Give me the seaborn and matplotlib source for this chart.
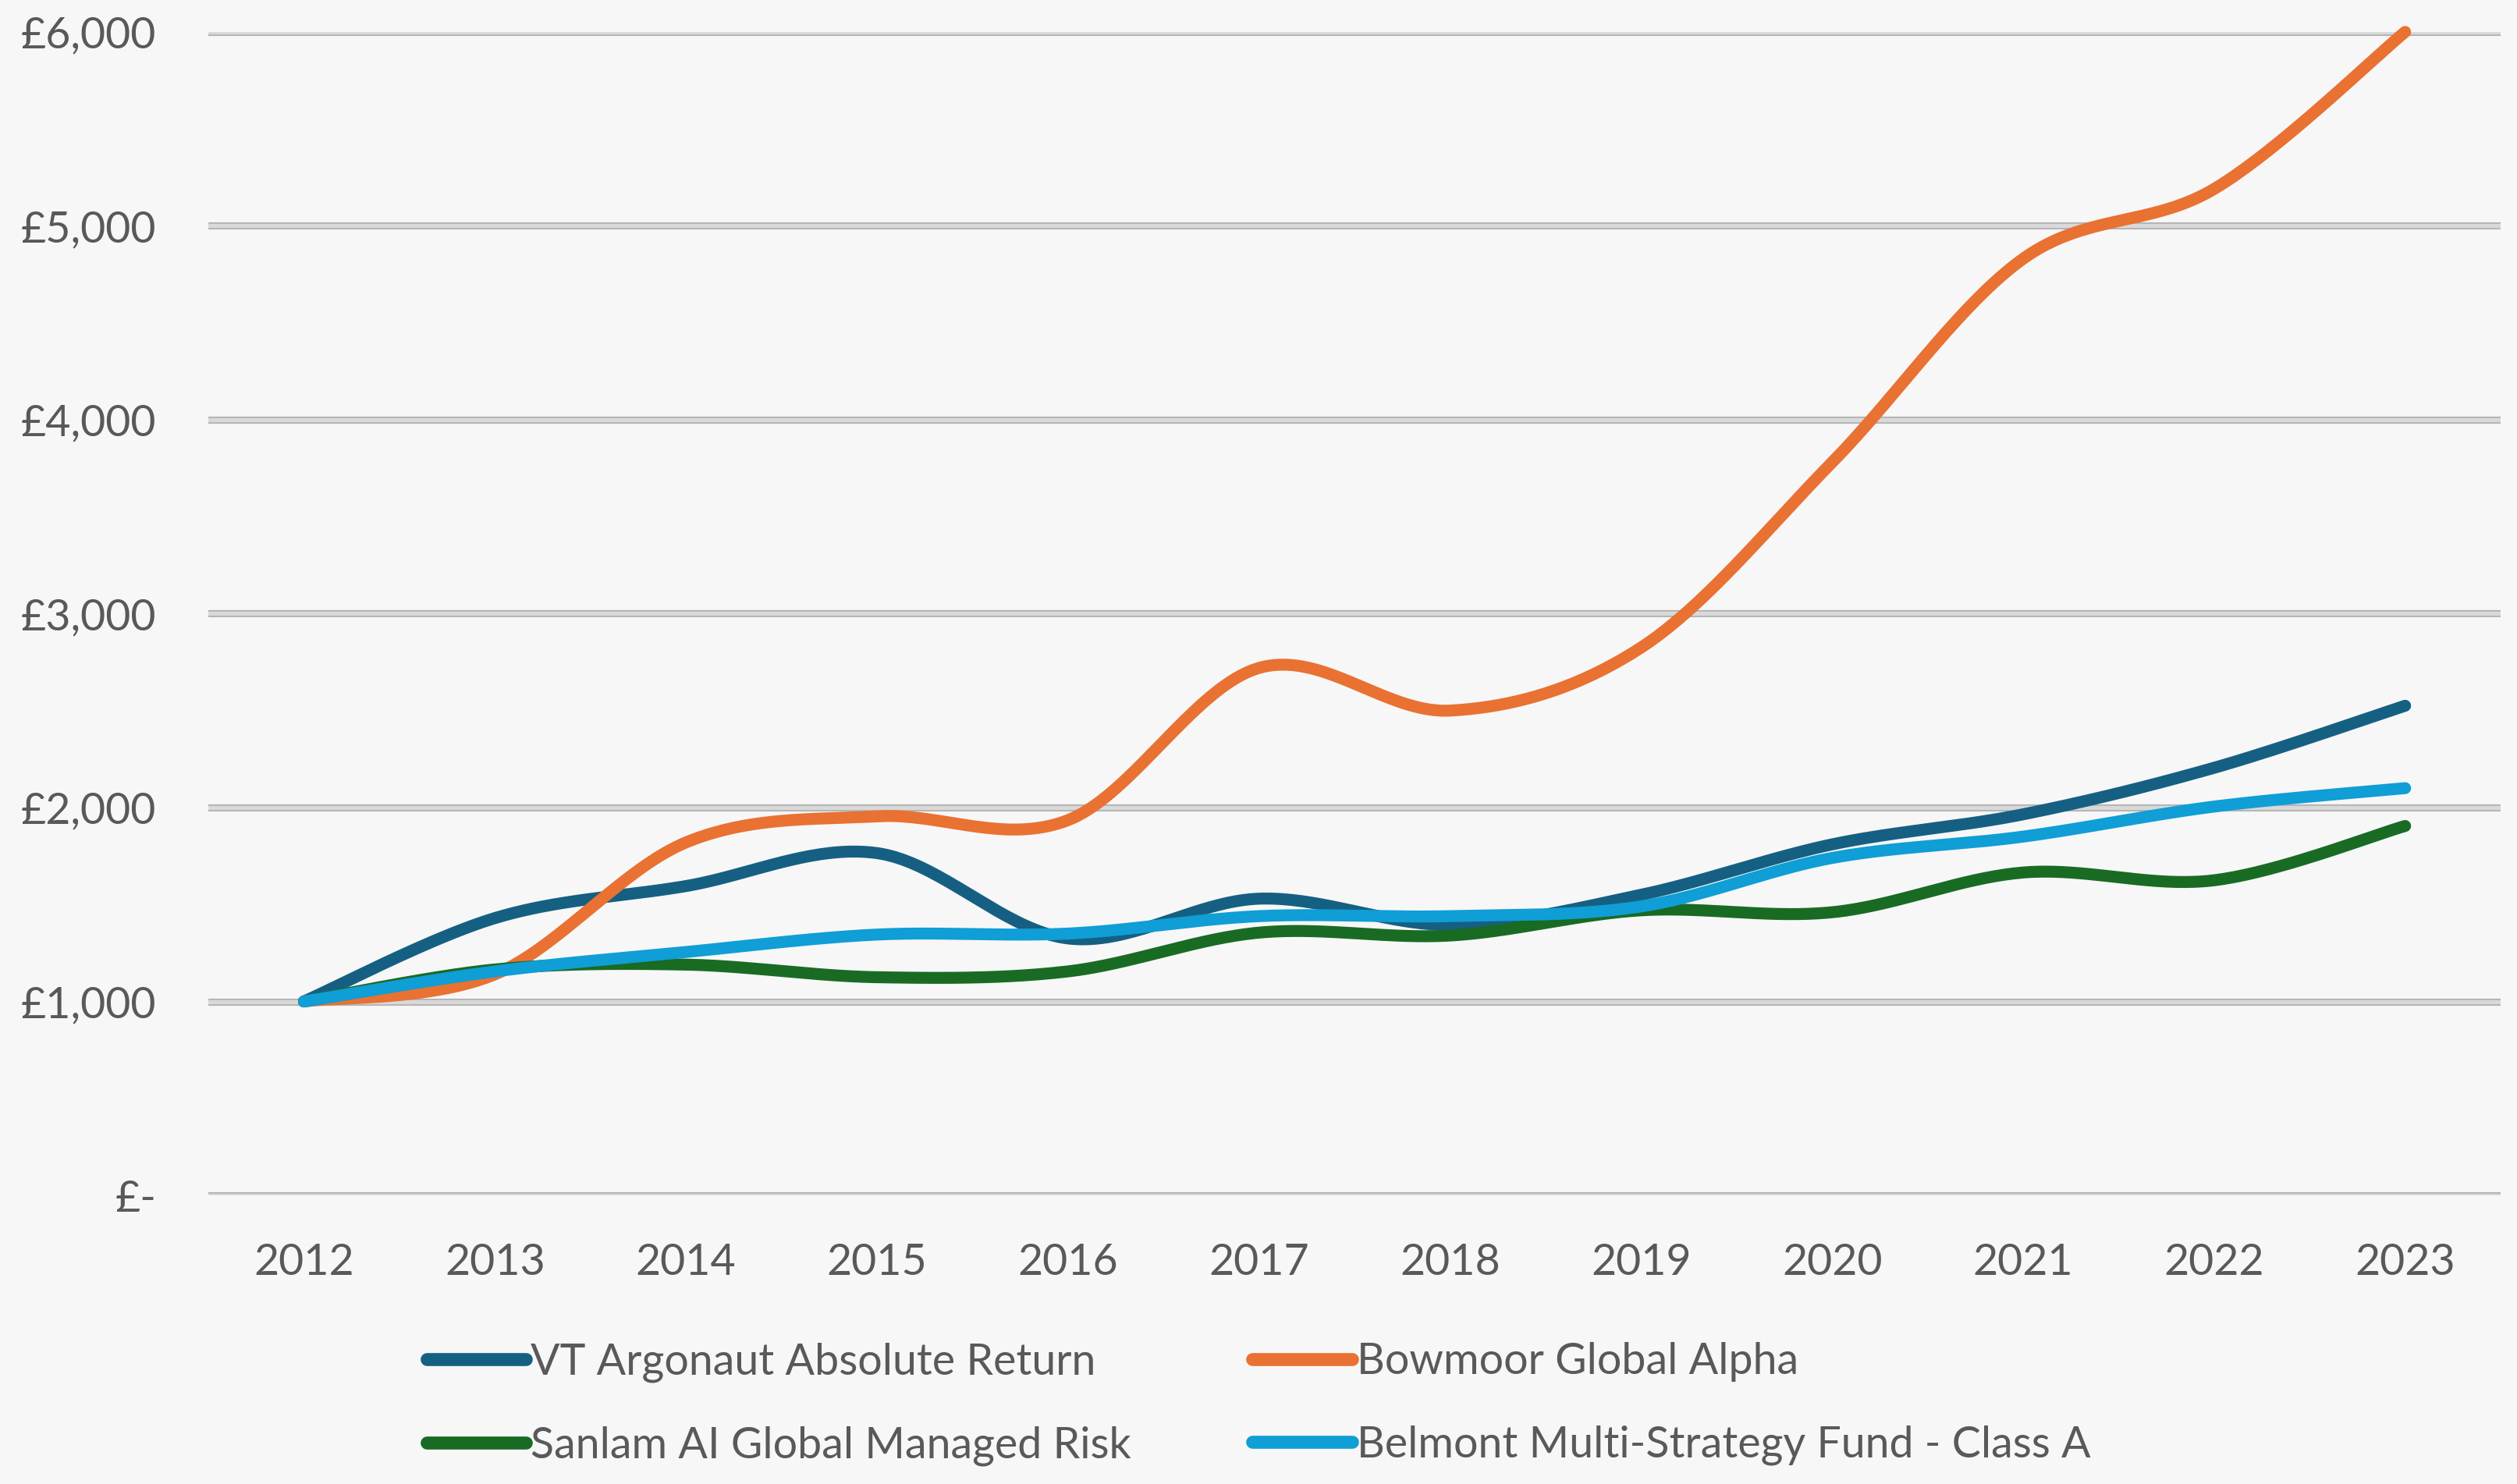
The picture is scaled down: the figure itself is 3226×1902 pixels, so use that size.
import numpy as np
import pandas as pd
import matplotlib
matplotlib.use("Agg")
import matplotlib.pyplot as plt
from matplotlib.ticker import FuncFormatter
import seaborn as sns

# growth of £1,000
years = ["2012", "2013", "2014", "2015", "2016", "2017",
         "2018", "2019", "2020", "2021", "2022", "2023"]
argonaut = [1000, 1430, 1595, 1765, 1325, 1530, 1395, 1550, 1810, 1965, 2205, 2525]
bowmoor = [1000, 1140, 1820, 1955, 1935, 2720, 2500, 2825, 3780, 4830, 5190, 6000]
sanlam = [1000, 1165, 1190, 1125, 1155, 1355, 1340, 1470, 1460, 1665, 1625, 1905]
belmont = [1000, 1155, 1255, 1345, 1350, 1440, 1440, 1490, 1740, 1850, 2005, 2100]

names = ["VT Argonaut Absolute Return", "Bowmoor Global Alpha",
         "Sanlam AI Global Managed Risk", "Belmont Multi-Strategy Fund - Class A"]
colors = ["#156082", "#E97132", "#196B24", "#0F9ED5"]
yticks = [0, 1000, 2000, 3000, 4000, 5000, 6000]


def smooth(xs, ys, n=40):
    # bezier smoothing like a spreadsheet "smoothed line"
    xs = np.asarray(xs, float)
    ys = np.asarray(ys, float)
    px, py = [], []
    for i in range(len(xs) - 1):
        i0 = max(i - 1, 0)
        i3 = min(i + 2, len(xs) - 1)
        c1x = xs[i] + (xs[i + 1] - xs[i0]) / 6
        c1y = ys[i] + (ys[i + 1] - ys[i0]) / 6
        c2x = xs[i + 1] - (xs[i3] - xs[i]) / 6
        c2y = ys[i + 1] - (ys[i3] - ys[i]) / 6
        t = np.linspace(0, 1, n, endpoint=(i == len(xs) - 2))
        a, b, c, d = (1 - t) ** 3, 3 * (1 - t) ** 2 * t, 3 * (1 - t) * t ** 2, t ** 3
        px.append(a * xs[i] + b * c1x + c * c2x + d * xs[i + 1])
        py.append(a * ys[i] + b * c1y + c * c2y + d * ys[i + 1])
    return np.concatenate(px), np.concatenate(py)


sns.set_style("white")
plt.rcParams["font.family"] = ["Lato", "DejaVu Sans"]

bg = "#F7F7F7"
fig = plt.figure(figsize=(16.13, 9.51), dpi=200, facecolor=bg)
ax = fig.add_axes([0.0828, 0.1945, 0.9107, 0.784])
ax.set_facecolor(bg)

for v in yticks:
    ax.axhline(v, color="#B3B3B3", lw=3.3, zorder=0, solid_capstyle="round")
    ax.axhline(v, color="#D9D9D9", lw=1.9, zorder=0, solid_capstyle="round")

pos = np.arange(len(years))
for vals, name, col in zip([argonaut, bowmoor, sanlam, belmont], names, colors):
    sx, sy = smooth(pos, vals)
    df = pd.DataFrame({"x": sx, "y": sy})
    sns.lineplot(data=df, x="x", y="y", sort=False, estimator=None, color=col,
                 lw=5.5, label=name, ax=ax, legend=False,
                 solid_capstyle="round", clip_on=False)

ax.set_xlim(-0.5, len(years) - 0.5)
ax.set_ylim(0, 6000)
ax.set_xticks(pos)
ax.set_xticklabels(years)
ax.set_yticks(yticks)
ax.yaxis.set_major_formatter(FuncFormatter(lambda v, p: "£-" if v == 0 else f"£{v:,.0f}"))
ax.set_xlabel("")
ax.set_ylabel("")
ax.tick_params(axis="both", length=0, labelsize=20, labelcolor="#595959")
ax.tick_params(axis="y", pad=24)
ax.tick_params(axis="x", pad=22)
sns.despine(ax=ax, left=True, bottom=True)

# legend fills row by row in the reference
handles, labels = ax.get_legend_handles_labels()
order = [0, 2, 1, 3]
leg = fig.legend([handles[i] for i in order], [labels[i] for i in order],
                 loc="center", bbox_to_anchor=(0.5, 0.054),
                 ncol=2, frameon=False, fontsize=20, handlelength=2.3,
                 handletextpad=0.1, columnspacing=2.8, labelspacing=1.0)
for t in leg.get_texts():
    t.set_color("#595959")
for h in leg.legend_handles:
    h.set_linewidth(6)

fig.savefig("out.png", dpi=200, facecolor=bg)
